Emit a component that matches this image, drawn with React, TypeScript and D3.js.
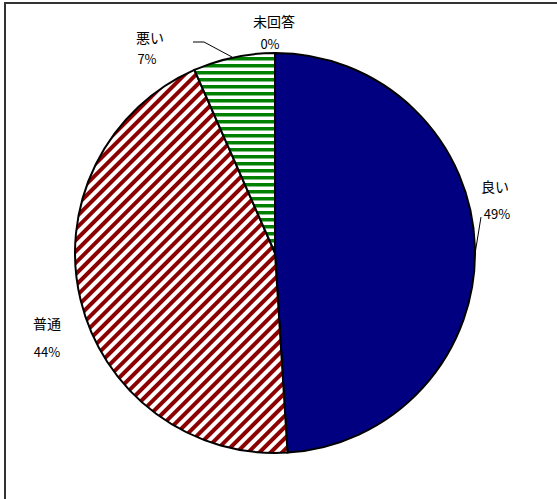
import React from "react";
import * as d3 from "d3";

const categories = ["良い", "普通", "悪い", "未回答"];
const values = [49.0, 44.4, 6.6, 0.0];
const percentLabels = ["49%", "44%", "7%", "0%"];

const W = 557;
const H = 499;

export default function App() {
  const cx = 275;
  const cy = 253;
  const r = 200;
  const pie = d3
    .pie<number>()
    .sort(null)
    .value((d) => d)
    .startAngle(0)
    .endAngle(2 * Math.PI);
  const arcs = pie(values);
  const arc = d3.arc<d3.PieArcDatum<number>>().innerRadius(0).outerRadius(r);
  const fills = ["#000080", "url(#redHatch)", "url(#greenStripe)", "#ffffff"];

  // label positions (relative to chart)
  const labelPos = [
    { x: 495, y: 192, px: 497, py: 219 },
    { x: 47, y: 329, px: 47, py: 357 },
    { x: 150, y: 43, px: 147, py: 64 },
    { x: 274, y: 27, px: 270, py: 49 },
  ];

  return (
    <svg
      width={W}
      height={H}
      style={{ position: "absolute", left: 0, top: 0, background: "#fff" }}
    >
      <defs>
        <pattern
          id="redHatch"
          patternUnits="userSpaceOnUse"
          width={8}
          height={8}
          patternTransform="rotate(45)"
        >
          <rect x={0} y={0} width={8} height={8} fill="#ffffff" />
          <rect x={0} y={0} width={4} height={8} fill="#8b0000" />
        </pattern>
        <pattern
          id="greenStripe"
          patternUnits="userSpaceOnUse"
          width={8}
          height={7}
        >
          <rect x={0} y={0} width={8} height={7} fill="#ffffff" />
          <rect x={0} y={0} width={8} height={3.5} fill="#008000" />
        </pattern>
      </defs>
      <rect x={0} y={0} width={W} height={H} fill="#fff" />
      <rect
        x={5}
        y={3}
        width={W + 10}
        height={H + 10}
        fill="none"
        stroke="#333"
        strokeWidth={2}
      />
      <g transform={`translate(${cx},${cy})`}>
        {arcs.map((a, i) => (
          <path
            key={categories[i]}
            d={arc(a) || ""}
            fill={fills[i]}
            stroke="#000"
            strokeWidth={2}
          />
        ))}
      </g>
      {/* leader lines */}
      <polyline
        points="193,42 204,42 232,57"
        fill="none"
        stroke="#000"
        strokeWidth={1}
      />
      <polyline
        points="481,217 474,260"
        fill="none"
        stroke="#000"
        strokeWidth={1}
      />
      {categories.map((c, i) => (
        <g
          key={c}
          fontFamily="'Noto Sans CJK JP', sans-serif"
          fill="#000"
          textAnchor="middle"
        >
          <text x={labelPos[i].x} y={labelPos[i].y} fontSize={14}>
            {c}
          </text>
          <text x={labelPos[i].px} y={labelPos[i].py} fontSize={13}>
            {percentLabels[i]}
          </text>
        </g>
      ))}
    </svg>
  );
}
